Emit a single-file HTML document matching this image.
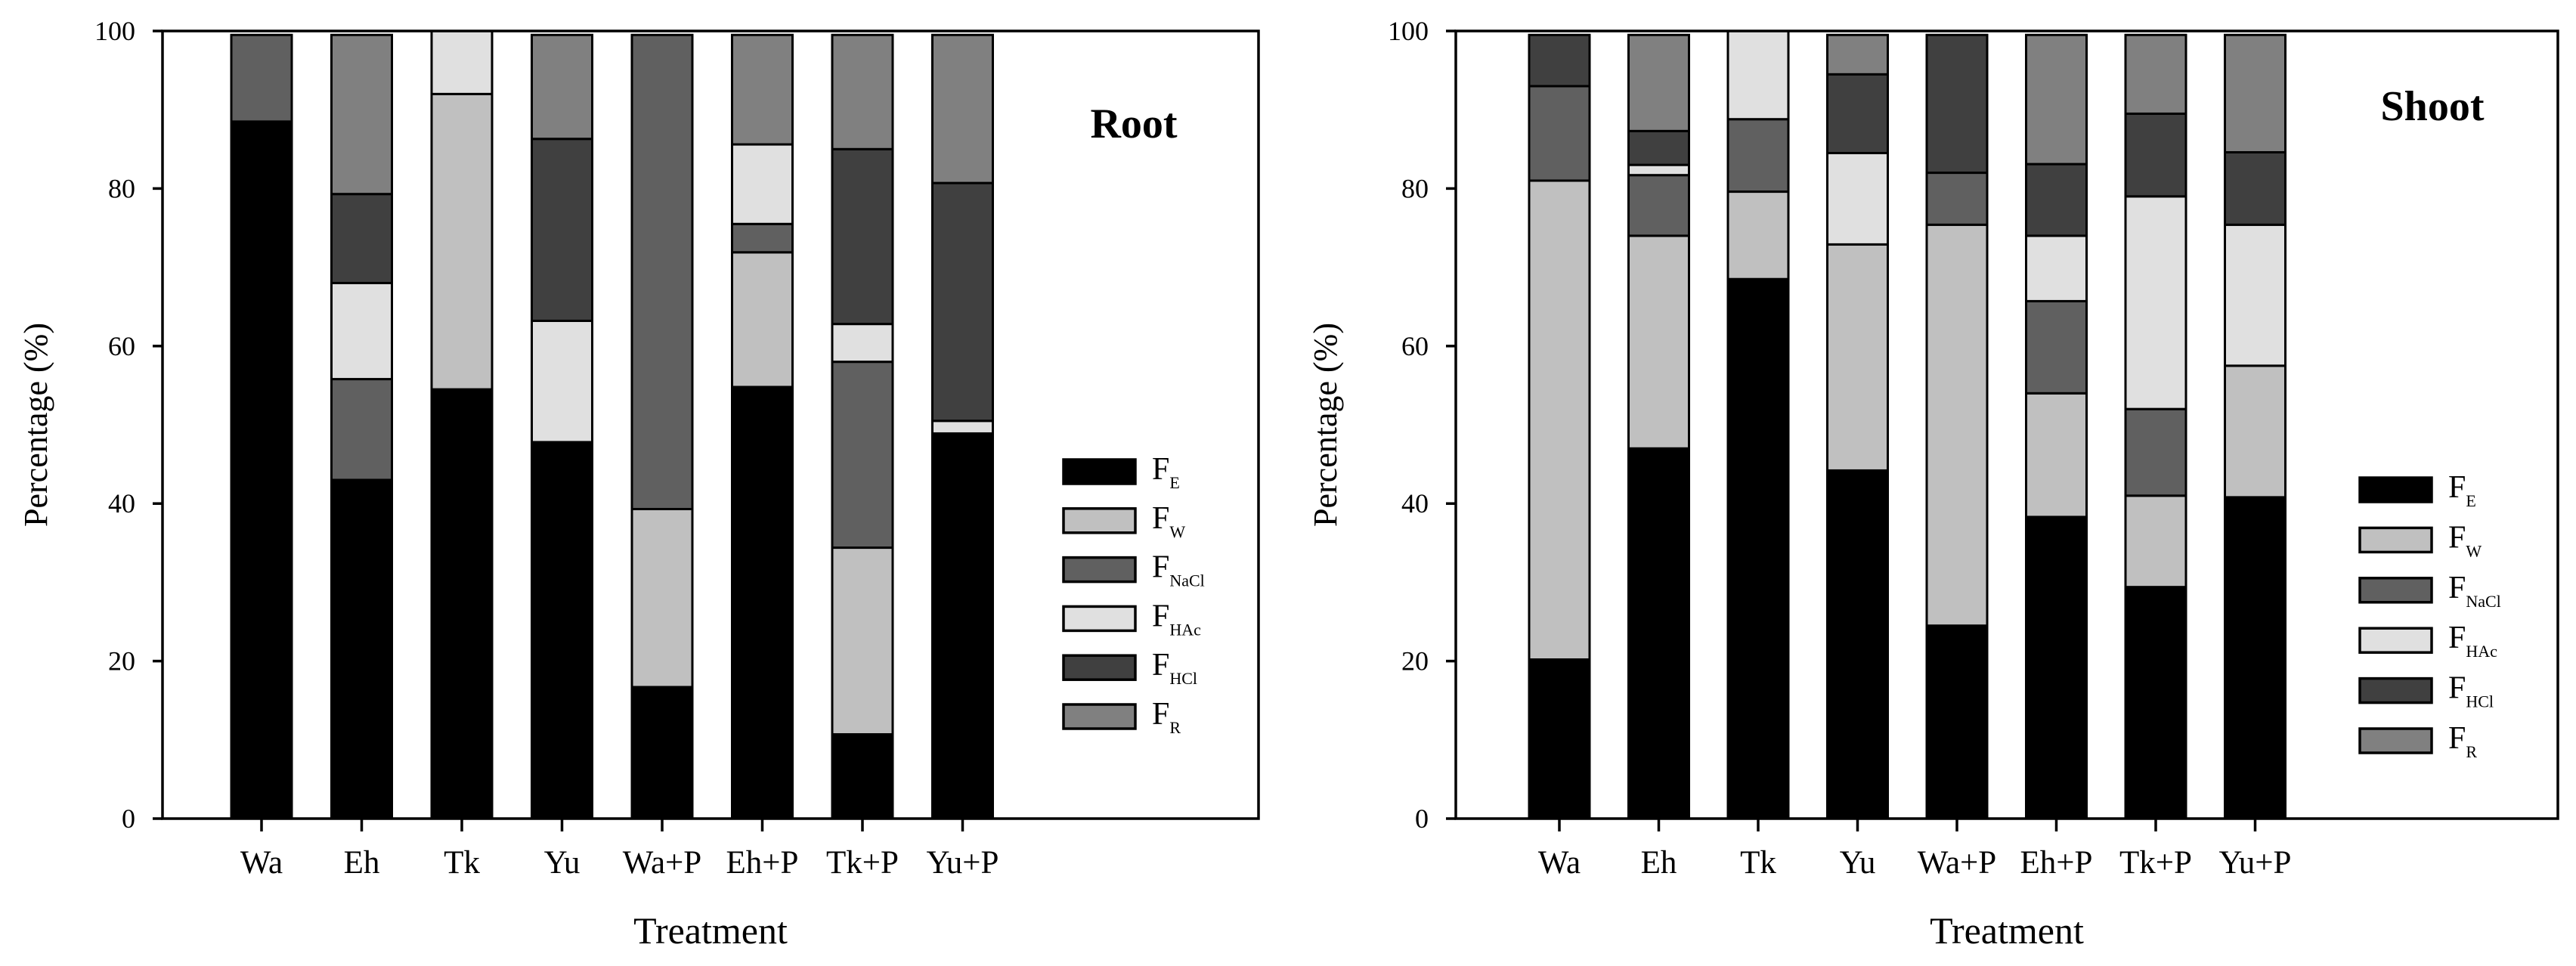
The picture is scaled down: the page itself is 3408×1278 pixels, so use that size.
<!DOCTYPE html>
<html><head><meta charset="utf-8"><style>
html,body{margin:0;padding:0;background:#fff;width:3408px;height:1278px;overflow:hidden}
svg{display:block}
text{font-family:"Liberation Serif",serif;fill:#000}
</style></head><body>
<svg id="chart" width="3408" height="1278" viewBox="0 0 3408 1278" xmlns="http://www.w3.org/2000/svg"></svg>
<script>
const categories = ["Wa","Eh","Tk","Yu","Wa+P","Eh+P","Tk+P","Yu+P"];
const seriesNames = ["E","W","NaCl","HAc","HCl","R"];
const yTicks = [0,20,40,60,80,100];
// Root values (%), per series, per category
const rootFE   = [88.5,43.0,54.5,47.8,16.7,54.8,10.7,48.9];
const rootFW   = [0,0,37.5,0,22.6,17.1,23.7,0];
const rootFNaCl= [11.0,12.8,0,0,60.2,3.6,23.6,0];
const rootFHAc = [0,12.2,8.0,15.4,0,10.1,4.8,1.6];
const rootFHCl = [0,11.3,0,23.1,0,0,22.2,30.2];
const rootFR   = [0,20.2,0,13.2,0,13.9,14.5,18.8];
// Shoot values (%)
const shootFE   = [20.2,47.0,68.5,44.2,24.5,38.3,29.4,40.8];
const shootFW   = [60.8,27.0,11.1,28.7,50.9,15.7,11.6,16.7];
const shootFNaCl= [12.0,7.7,9.2,0,6.6,11.7,11.0,0];
const shootFHAc = [0,1.3,11.2,11.6,0,8.3,27.0,17.9];
const shootFHCl = [6.5,4.3,0,10.0,17.5,9.1,10.5,9.2];
const shootFR   = [0,12.2,0,5.0,0,16.4,10.0,14.9];

const colors = ["#000000","#c0c0c0","#606060","#e0e0e0","#404040","#808080"];
const NS="http://www.w3.org/2000/svg";
const svg=document.getElementById('chart');
function mk(tag,attrs,parent){const e=document.createElementNS(NS,tag);for(const k in attrs)e.setAttribute(k,attrs[k]);(parent||svg).appendChild(e);return e;}

function drawPanel(cfg){
  const g=mk('g',{});
  
  
  const y0=1083,y1=41;
  const yScale=v=>y0-(y1-y0)*-v/100;
  const xScale=i=>cfg.x0+cfg.step*i;
  const bw=80;
  // bars
  cfg.data.forEach((arr,s)=>{
    arr.forEach((v,i)=>{
      let base=0;for(let k=0;k<s;k++)base+=cfg.data[k][i];
      if(v<=0)return;
      const r=mk('rect',{x:xScale(i)-bw/2,y:yScale(base+v),width:bw,height:yScale(base)-yScale(base+v),fill:colors[s],stroke:'#000','stroke-width':3},g);
      
      
    });
  });
  // frame
  const f=mk('rect',{x:cfg.ax,y:y1,width:cfg.rx-cfg.ax,height:y0-y1,fill:'none',stroke:'#000','stroke-width':3.5},g);
  
  
  // y ticks
  yTicks.forEach(t=>{
    mk('line',{x1:cfg.ax-13,x2:cfg.ax,y1:yScale(t),y2:yScale(t),stroke:'#000','stroke-width':3.5},g);
    const tx=mk('text',{x:cfg.ax-36,y:yScale(t)+12,'text-anchor':'end','font-size':36},g);
    tx.textContent=t;
    
    
  });
  // x ticks
  categories.forEach((c,i)=>{
    mk('line',{x1:xScale(i),x2:xScale(i),y1:y0,y2:y0+17,stroke:'#000','stroke-width':3.5},g);
    const tx=mk('text',{x:xScale(i),y:1155,'text-anchor':'middle','font-size':43},g);
    tx.textContent=c;
    
    
  });
  const xt=mk('text',{x:(cfg.ax+cfg.rx)/2,y:1248,'text-anchor':'middle','font-size':50},g);
  xt.textContent='Treatment';
  
  
  const yt=mk('text',{x:0,y:0,'text-anchor':'middle','font-size':44,transform:`translate(${cfg.ylx},562) rotate(-90)`},g);
  yt.textContent='Percentage (%)';
  
  
  const tt=mk('text',{x:cfg.tx,y:cfg.ty,'text-anchor':'middle','font-size':56,'font-weight':'bold'},g);
  tt.textContent=cfg.title;
  
  
  // legend
  seriesNames.forEach((n,s)=>{
    const cy=cfg.lgy+cfg.lgs*s;
    const lg=mk('g',{},g);
    
    
    mk('rect',{x:cfg.lgx,y:cy-16,width:95,height:32,fill:colors[s],stroke:'#000','stroke-width':3.5},lg);
    const t=mk('text',{x:cfg.lgx+117,y:cy+10,'font-size':42},lg);
    t.textContent='F';
    const sub=mk('tspan',{'font-size':22,dy:12},t);
    sub.textContent=n;
  });
}
drawPanel({name:'root',title:'Root',x0:346,step:132.5,ax:215,rx:1665,ylx:62,tx:1500,ty:182,
  lgx:1407,lgy:624,lgs:64.8,
  data:[rootFE,rootFW,rootFNaCl,rootFHAc,rootFHCl,rootFR]});
drawPanel({name:'shoot',title:'Shoot',x0:2063,step:131.5,ax:1926,rx:3384,ylx:1768,tx:3218,ty:159,
  lgx:3122,lgy:648,lgs:66.4,
  data:[shootFE,shootFW,shootFNaCl,shootFHAc,shootFHCl,shootFR]});
</script>
</body></html>
